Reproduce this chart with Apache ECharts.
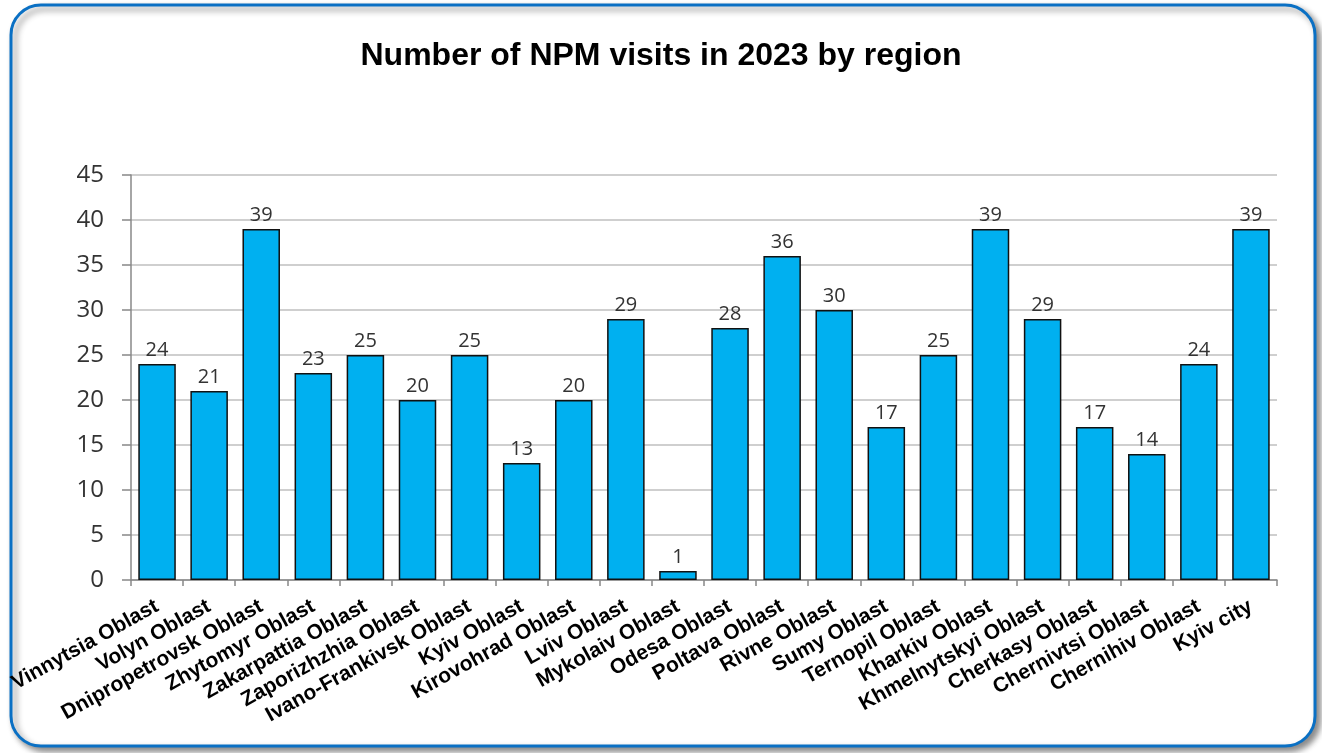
<!DOCTYPE html>
<html>
<head>
<meta charset="utf-8">
<script src="https://cdn.jsdelivr.net/npm/echarts@6/dist/echarts.min.js"></script>
<style>
  html, body { margin: 0; padding: 0; background: #fff; }
  #chart { width: 1322px; height: 753px; }
</style>
</head>
<body>
<div id="chart"></div>
<script>
// Regions and number of visits
const regions = [
  'Vinnytsia Oblast', 'Volyn Oblast', 'Dnipropetrovsk Oblast', 'Zhytomyr Oblast',
  'Zakarpattia Oblast', 'Zaporizhzhia Oblast', 'Ivano-Frankivsk Oblast', 'Kyiv Oblast',
  'Kirovohrad Oblast', 'Lviv Oblast', 'Mykolaiv Oblast', 'Odesa Oblast',
  'Poltava Oblast', 'Rivne Oblast', 'Sumy Oblast', 'Ternopil Oblast',
  'Kharkiv Oblast', 'Khmelnytskyi Oblast', 'Cherkasy Oblast', 'Chernivtsi Oblast',
  'Chernihiv Oblast', 'Kyiv city'
];
const visits = [24, 21, 39, 23, 25, 20, 25, 13, 20, 29, 1, 28, 36, 30, 17, 25, 39, 29, 17, 14, 24, 39];

const chart = echarts.init(document.getElementById('chart'));
chart.setOption({
  backgroundColor: '#fff',
  animation: false,
  graphic: [{
    type: 'rect',
    shape: { x: 11, y: 5, width: 1304, height: 741, r: 30 },
    style: {
      fill: '#fff',
      stroke: '#0A70C4',
      lineWidth: 3,
      shadowBlur: 6,
      shadowOffsetX: 4,
      shadowOffsetY: 4,
      shadowColor: 'rgba(0,0,0,0.45)'
    },
    z: -10
  }],
  title: {
    text: 'Number of NPM visits in 2023 by region',
    left: 'center',
    top: 35,
    textStyle: {
      fontFamily: 'Liberation Sans, Arial, sans-serif',
      fontWeight: 'bold',
      fontSize: 32,
      color: '#000'
    }
  },
  grid: { left: 131, right: 45, top: 175, bottom: 173, containLabel: false },
  xAxis: {
    type: 'category',
    data: regions,
    axisLine: { lineStyle: { color: '#888', width: 1.5 } },
    axisTick: { show: true, alignWithLabel: false, length: 6, lineStyle: { color: '#888', width: 1.5 } },
    axisLabel: {
      interval: 0,
      rotate: 29,
      margin: 25,
      fontFamily: 'Liberation Sans, Arial, sans-serif',
      fontWeight: 'bold',
      fontSize: 21,
      color: '#000'
    }
  },
  yAxis: {
    type: 'value',
    min: 0,
    max: 45,
    interval: 5,
    axisLine: { show: true, lineStyle: { color: '#888', width: 1.5 } },
    axisTick: { show: true, length: 9, lineStyle: { color: '#888', width: 1.5 } },
    splitLine: { lineStyle: { color: '#BFBFBF', width: 1.5 } },
    axisLabel: {
      margin: 27,
      fontFamily: 'Open Sans, Liberation Sans, sans-serif',
      fontSize: 24,
      color: '#333'
    }
  },
  series: [{
    type: 'bar',
    data: visits,
    barCategoryGap: '28%',
    itemStyle: { color: '#00B0F0', borderColor: '#111', borderWidth: 1.5 },
    label: {
      show: true,
      position: 'top',
      distance: 4,
      fontFamily: 'Open Sans, Liberation Sans, sans-serif',
      fontSize: 20,
      color: '#333'
    }
  }]
});
</script>
</body>
</html>
